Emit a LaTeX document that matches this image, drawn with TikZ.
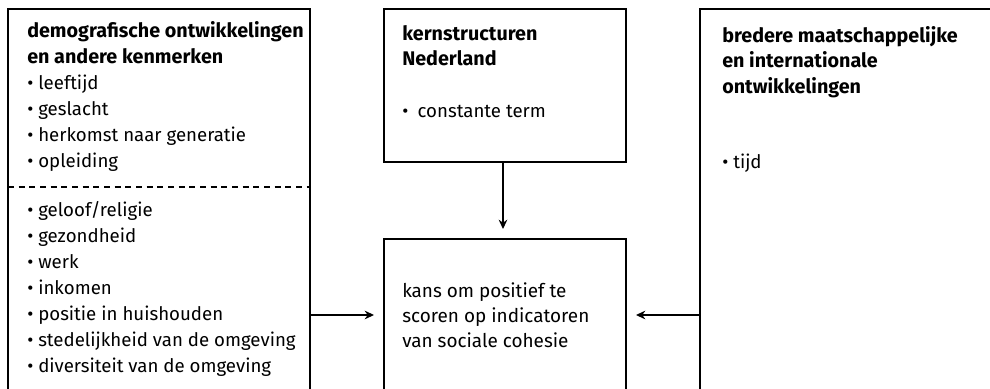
\documentclass[tikz,border=0pt]{standalone}
\usepackage{fontspec}
\setmainfont{Fira Sans}
\usetikzlibrary{arrows.meta}
\newcommand\hdtext[1]{{\fontsize{14.8}{19.4}\selectfont\bfseries #1}}
\begin{document}
\begin{tikzpicture}[x=0.75pt,y=-0.75pt,
  boxline/.style={draw=black, line width=1pt},
  sep/.style={draw=black, line width=0.9pt, dash pattern=on 4.5pt off 3.5pt},
  txt/.style={anchor=base west, inner sep=0pt, align=left, font=\fontsize{14}{19.4}\selectfont},
  bigtxt/.style={txt, font=\fontsize{14.2}{18.75}\selectfont},
  arr/.style={draw=black, line width=1pt, -{Stealth[length=7pt,width=6.5pt]}, shorten >=7.5pt}]
\useasboundingbox (0,0) rectangle (990,389);
% box corners
\coordinate (demoSW) at (8,392);
\coordinate (demoNW) at (8,9);
\coordinate (demoNE) at (310,9);
\coordinate (demoSE) at (310,392);
\coordinate (kernNW) at (384,9);
\coordinate (kernSE) at (626,162);
\coordinate (uitSW) at (384,392);
\coordinate (uitNW) at (384,239);
\coordinate (uitNE) at (626,239);
\coordinate (uitSE) at (626,392);
\coordinate (bredSW) at (700,392);
\coordinate (bredNW) at (700,9);
\coordinate (bredNE) at (995,9);
% boxes
\draw[boxline] (demoSW) -- (demoNW) -- (demoNE) -- (demoSE);
\draw[sep] (8,187) -- (310,187);
\draw[boxline] (kernNW) rectangle (kernSE);
\draw[boxline] (uitSW) -- (uitNW) -- (uitNE) -- (uitSE);
\draw[boxline] (bredSW) -- (bredNW) -- (bredNE);
% texts (anchored at the baseline of their last line)
\node[txt] (demotxt) at (27,167) {\hdtext{demografische ontwikkelingen}\\\hdtext{en andere kenmerken}\\• leeftijd\\• geslacht\\• herkomst naar generatie\\• opleiding};
\node[txt] (demotxt2) at (27,372) {• geloof/religie\\• gezondheid\\• werk\\• inkomen\\• positie in huishouden\\• stedelijkheid van de omgeving\\• diversiteit van de omgeving};
\node[txt] (kerntxt) at (402,117) {\hdtext{kernstructuren}\\\hdtext{Nederland}\\[18.9pt]•\hspace{7pt}constante term};
\node[bigtxt] (uittxt) at (402,347) {kans om positief te\\scoren op indicatoren\\van sociale cohesie};
\node[txt] (bredtxt) at (722,168) {\hdtext{bredere maatschappelijke}\\\hdtext{en internationale}\\\hdtext{ontwikkelingen}\\[36.3pt]• tijd};
% connectors
\coordinate (demoOut) at (310,315);
\coordinate (uitIn) at (384,315);
\coordinate (bredOut) at (700,315);
\coordinate (uitInR) at (626,315);
\coordinate (kernOut) at (503,162);
\coordinate (uitTop) at (503,239);
\draw[arr] (demoOut) -- (uitIn);
\draw[arr] (bredOut) -- (uitInR);
\draw[arr] (kernOut) -- (uitTop);
\end{tikzpicture}
\end{document}
